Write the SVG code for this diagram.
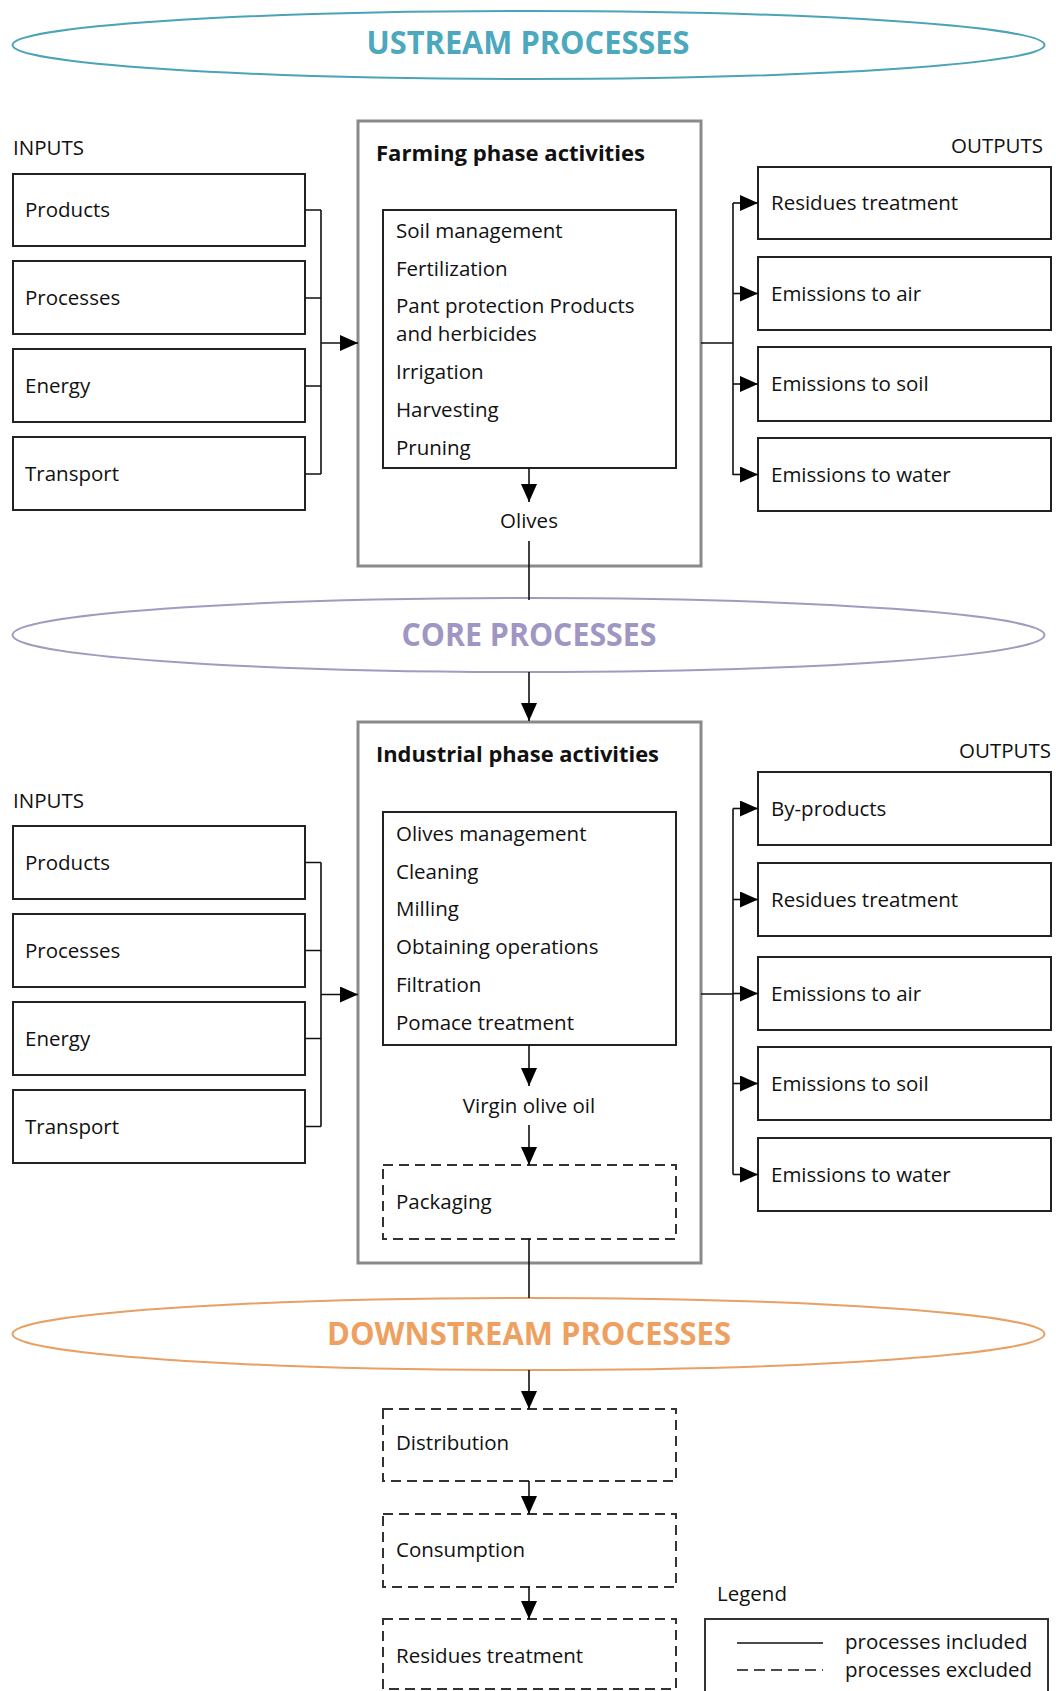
<svg xmlns="http://www.w3.org/2000/svg" width="1056" height="1691" viewBox="0 0 1056 1691">
<style>
  .t { font-family: "Open Sans", "Noto Sans", sans-serif; font-size: 20.5px; fill: #111; }
  .tc { text-anchor: middle; }
  .ttl { font-family: "Open Sans", "Noto Sans", sans-serif; font-size: 22px; font-weight: 700; fill: #111; }
  .big { font-family: "Open Sans", "Noto Sans", sans-serif; font-size: 32px; font-weight: 700; text-anchor: middle; }
  .box { fill: #fff; stroke: #222; stroke-width: 2; }
  .dbox { fill: #fff; stroke: #333; stroke-width: 2; stroke-dasharray: 10 6; }
  .phase { fill: #fff; stroke: #8a8a8a; stroke-width: 3; }
  .ln { fill: none; stroke: #111; stroke-width: 1.6; }
  .arr { fill: none; stroke: #111; stroke-width: 1.6; marker-end: url(#ah); }
</style>
<defs>
  <marker id="ah" viewBox="0 0 18 16" refX="18" refY="8" markerWidth="18" markerHeight="16" markerUnits="userSpaceOnUse" orient="auto">
    <path d="M0,0 L18,8 L0,16 Z" fill="#000"/>
  </marker>
</defs>
<rect width="1056" height="1691" fill="#fff"/>

<!-- Stage ellipses -->
<g id="upstream">
  <ellipse cx="528.5" cy="45" rx="516" ry="34" fill="#fff" stroke="#4aa3b6" stroke-width="2"/>
  <text class="big" x="528" y="54" fill="#4ba8bd" textLength="323" lengthAdjust="spacingAndGlyphs">USTREAM PROCESSES</text>
</g>

<!-- Farming phase -->
<g id="farming">
  <rect class="phase" x="358" y="121" width="343" height="445"/>
  <text class="ttl" x="376" y="161" textLength="269" lengthAdjust="spacingAndGlyphs">Farming phase activities</text>
</g>
<g id="farming-list">
  <rect class="box" x="383" y="210" width="293" height="258"/>
  <text class="t" x="396" y="238">Soil management</text>
  <text class="t" x="396" y="276">Fertilization</text>
  <text class="t" x="396" y="313">Pant protection Products</text>
  <text class="t" x="396" y="341">and herbicides</text>
  <text class="t" x="396" y="379">Irrigation</text>
  <text class="t" x="396" y="417">Harvesting</text>
  <text class="t" x="396" y="455">Pruning</text>
</g>
<g id="olives"><text class="t tc" x="529" y="528">Olives</text></g>

<g id="inputs1">
  <text class="t" x="13" y="155">INPUTS</text>
  <g id="in1-products"><rect class="box" x="13" y="174" width="292" height="72"/><text class="t" x="25" y="217">Products</text></g>
  <g id="in1-processes"><rect class="box" x="13" y="261" width="292" height="73"/><text class="t" x="25" y="305">Processes</text></g>
  <g id="in1-energy"><rect class="box" x="13" y="349" width="292" height="73"/><text class="t" x="25" y="393">Energy</text></g>
  <g id="in1-transport"><rect class="box" x="13" y="437" width="292" height="73"/><text class="t" x="25" y="481">Transport</text></g>
</g>

<g id="outputs1">
  <text class="t" x="1043" y="153" text-anchor="end">OUTPUTS</text>
  <g id="out1-residues"><rect class="box" x="758" y="167" width="293" height="72"/><text class="t" x="771" y="210">Residues treatment</text></g>
  <g id="out1-air"><rect class="box" x="758" y="257" width="293" height="73"/><text class="t" x="771" y="301">Emissions to air</text></g>
  <g id="out1-soil"><rect class="box" x="758" y="347" width="293" height="74"/><text class="t" x="771" y="391">Emissions to soil</text></g>
  <g id="out1-water"><rect class="box" x="758" y="438" width="293" height="73"/><text class="t" x="771" y="482">Emissions to water</text></g>
</g>

<g id="core">
  <ellipse cx="528.5" cy="635" rx="516" ry="37" fill="#fff" stroke="#a09cc0" stroke-width="2"/>
  <text class="big" x="529" y="646" fill="#a096c4" textLength="255" lengthAdjust="spacingAndGlyphs">CORE PROCESSES</text>
</g>

<!-- Industrial phase -->
<g id="industrial">
  <rect class="phase" x="358" y="722" width="343" height="541"/>
  <text class="ttl" x="376" y="762" textLength="283" lengthAdjust="spacingAndGlyphs">Industrial phase activities</text>
</g>
<g id="industrial-list">
  <rect class="box" x="383" y="812" width="293" height="233"/>
  <text class="t" x="396" y="841">Olives management</text>
  <text class="t" x="396" y="879">Cleaning</text>
  <text class="t" x="396" y="916">Milling</text>
  <text class="t" x="396" y="954">Obtaining operations</text>
  <text class="t" x="396" y="992">Filtration</text>
  <text class="t" x="396" y="1030">Pomace treatment</text>
</g>
<g id="virgin-oil"><text class="t tc" x="529" y="1113">Virgin olive oil</text></g>
<g id="packaging"><rect class="dbox" x="383" y="1165" width="293" height="74"/><text class="t" x="396" y="1209">Packaging</text></g>

<g id="inputs2">
  <text class="t" x="13" y="808">INPUTS</text>
  <g id="in2-products"><rect class="box" x="13" y="826" width="292" height="73"/><text class="t" x="25" y="870">Products</text></g>
  <g id="in2-processes"><rect class="box" x="13" y="914" width="292" height="73"/><text class="t" x="25" y="958">Processes</text></g>
  <g id="in2-energy"><rect class="box" x="13" y="1002" width="292" height="73"/><text class="t" x="25" y="1046">Energy</text></g>
  <g id="in2-transport"><rect class="box" x="13" y="1090" width="292" height="73"/><text class="t" x="25" y="1134">Transport</text></g>
</g>

<g id="outputs2">
  <text class="t" x="1051" y="758" text-anchor="end">OUTPUTS</text>
  <g id="out2-byproducts"><rect class="box" x="758" y="772" width="293" height="73"/><text class="t" x="771" y="816">By-products</text></g>
  <g id="out2-residues"><rect class="box" x="758" y="863" width="293" height="73"/><text class="t" x="771" y="907">Residues treatment</text></g>
  <g id="out2-air"><rect class="box" x="758" y="957" width="293" height="73"/><text class="t" x="771" y="1001">Emissions to air</text></g>
  <g id="out2-soil"><rect class="box" x="758" y="1047" width="293" height="73"/><text class="t" x="771" y="1091">Emissions to soil</text></g>
  <g id="out2-water"><rect class="box" x="758" y="1138" width="293" height="73"/><text class="t" x="771" y="1182">Emissions to water</text></g>
</g>

<g id="downstream">
  <ellipse cx="528.5" cy="1334" rx="516" ry="36" fill="#fff" stroke="#e8a064" stroke-width="2"/>
  <text class="big" x="529" y="1345" fill="#eea060" textLength="404" lengthAdjust="spacingAndGlyphs">DOWNSTREAM PROCESSES</text>
</g>

<g id="distribution"><rect class="dbox" x="383" y="1409" width="293" height="72"/><text class="t" x="396" y="1450">Distribution</text></g>
<g id="consumption"><rect class="dbox" x="383" y="1514" width="293" height="73"/><text class="t" x="396" y="1557">Consumption</text></g>
<g id="residues-final"><rect class="dbox" x="383" y="1619" width="293" height="70"/><text class="t" x="396" y="1663">Residues treatment</text></g>

<g id="legend">
  <text class="t" x="717" y="1601">Legend</text>
  <rect x="705" y="1619" width="343" height="80" fill="#fff" stroke="#333" stroke-width="2"/>
  <line x1="737" y1="1643" x2="823" y2="1643" stroke="#111" stroke-width="1.6"/>
  <line x1="737" y1="1670" x2="823" y2="1670" stroke="#111" stroke-width="1.6" stroke-dasharray="11 6"/>
  <text class="t" x="845" y="1649">processes included</text>
  <text class="t" x="845" y="1677">processes excluded</text>
</g>

<g id="connectors">
  <!-- inputs 1 -->
  <path class="ln" d="M305,210 H321 M305,298 H321 M305,386 H321 M305,474 H321 M321,210 V474"/>
  <path class="arr" d="M321,343 H358"/>
  <!-- outputs 1 -->
  <path class="ln" d="M701,343 H733 M733,203 V475"/>
  <path class="arr" d="M733,203 H758"/>
  <path class="arr" d="M733,293.5 H758"/>
  <path class="arr" d="M733,384 H758"/>
  <path class="arr" d="M733,474.5 H758"/>
  <!-- farming flow -->
  <path class="arr" d="M529,468 V502"/>
  <path class="ln" d="M529,541 V600"/>
  <path class="arr" d="M529,672 V721"/>
  <!-- inputs 2 -->
  <path class="ln" d="M305,862.5 H321 M305,950.5 H321 M305,1038.5 H321 M305,1126.5 H321 M321,862.5 V1126.5"/>
  <path class="arr" d="M321,994.5 H358"/>
  <!-- outputs 2 -->
  <path class="ln" d="M701,994 H733 M733,808.5 V1174.5"/>
  <path class="arr" d="M733,808.5 H758"/>
  <path class="arr" d="M733,899.5 H758"/>
  <path class="arr" d="M733,993.5 H758"/>
  <path class="arr" d="M733,1083.5 H758"/>
  <path class="arr" d="M733,1174.5 H758"/>
  <!-- industrial flow -->
  <path class="arr" d="M529,1045 V1086"/>
  <path class="arr" d="M529,1125 V1165"/>
  <path class="ln" d="M529,1239 V1298"/>
  <!-- downstream flow -->
  <path class="arr" d="M529,1370 V1409"/>
  <path class="arr" d="M529,1481 V1514"/>
  <path class="arr" d="M529,1587 V1619"/>
</g>
</svg>
